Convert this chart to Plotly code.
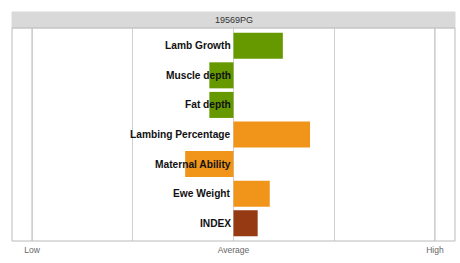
import plotly.graph_objects as go

categories = ["Lamb Growth", "Muscle depth", "Fat depth", "Lambing Percentage",
              "Maternal Ability", "Ewe Weight", "INDEX"]
values = [0.49, -0.24, -0.24, 0.76, -0.48, 0.36, 0.24]
bar_colors = ["#669900", "#669900", "#669900", "#f0941a", "#f0941a", "#f0941a", "#953a13"]
tick_vals = [-2, -1, 0, 1, 2]
tick_text = ["Low", "", "Average", "", "High"]
panel_title = "19569PG"

fig = go.Figure()
fig.add_trace(go.Bar(
    x=values, y=list(range(len(categories))), orientation="h",
    marker=dict(color=bar_colors, line=dict(width=0)),
    width=0.88, hoverinfo="skip",
))

for i, c in enumerate(categories):
    fig.add_annotation(x=0, y=i, xref="x", yref="y", text="<b>" + c + "</b>",
                       showarrow=False, xanchor="right", yanchor="middle", xshift=-1,
                       font=dict(family="Liberation Sans, Arial", size=10.2, color="#111111"))

# darker Low/High lines
for v in (-2, 2):
    fig.add_shape(type="line", x0=v, x1=v, y0=0, y1=1, xref="x", yref="paper",
                  line=dict(color="#a0a0a0", width=1), layer="below")
# strip
fig.add_shape(type="rect", xref="paper", yref="paper", x0=0, x1=1, y0=1, y1=1 + 16 / 213,
              fillcolor="#d9d9d9", line=dict(color="#d9d9d9", width=1))
fig.add_annotation(xref="paper", yref="paper", x=0.5, y=1 + 8 / 213, yanchor="middle",
                   text=panel_title, showarrow=False,
                   font=dict(family="Liberation Sans, Arial", size=9, color="#333333"))
# panel border
fig.add_shape(type="rect", xref="paper", yref="paper", x0=0, x1=1, y0=0, y1=1,
              line=dict(color="#bbbbbb", width=1), fillcolor="rgba(0,0,0,0)")

fig.update_layout(
    width=460, height=263, margin=dict(l=12, r=5, t=28, b=22),
    paper_bgcolor="white", plot_bgcolor="white", showlegend=False,
    xaxis=dict(range=[-2.2, 2.2], tickvals=tick_vals, ticktext=tick_text,
               showgrid=True, gridcolor="#d0d0d0", gridwidth=1, zeroline=False,
               showline=False, ticks="outside", ticklen=1, tickcolor="rgba(0,0,0,0)",
               tickfont=dict(family="Liberation Sans, Arial", size=8.5, color="#666666")),
    yaxis=dict(range=[6.6, -0.6], showticklabels=False, showgrid=False, zeroline=False, showline=False),
)
fig.write_html("out.html")
